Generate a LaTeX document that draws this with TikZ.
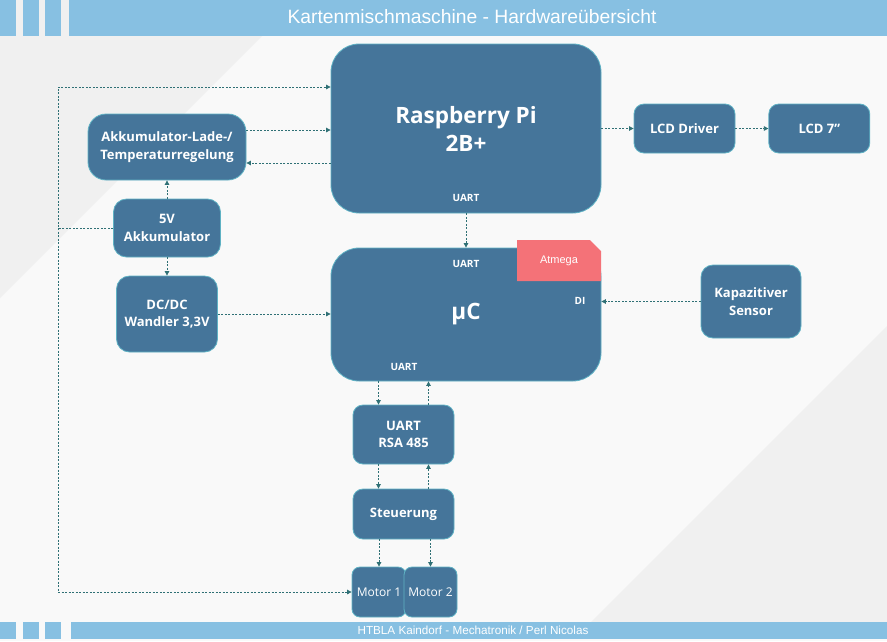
\documentclass[tikz,border=0pt]{standalone}
\usepackage{fontspec}
\setmainfont{Open Sans}
\newfontfamily\bannerfont{Liberation Sans}
\usetikzlibrary{arrows.meta, positioning, calc}
\definecolor{bannerB}{HTML}{87C0E2}
\definecolor{pageW}{HTML}{F9F9F9}
\definecolor{pageG}{HTML}{F0F0F0}
\definecolor{boxA}{HTML}{45759A}
\definecolor{boxE}{HTML}{5FB2C4}
\definecolor{wireT}{HTML}{2F7075}
\definecolor{atmegaR}{HTML}{F47278}

\begin{document}
\begin{tikzpicture}[
  x=1pt, y=-1pt,
  blk/.style={
    fill=boxA, draw=boxE, line width=0.8pt,
    rounded corners=#1, text=white,
    font=\bfseries\fontsize{13}{17.5}\selectfont,
    align=center, inner sep=0pt
  },
  blk/.default=12pt,
  sz/.style 2 args={minimum width=#1pt, minimum height=#2pt},
  pin/.style={text=white, inner sep=0pt,
    font=\bfseries\fontsize{10}{12}\selectfont},
  atmegabox/.style={
    text=white, inner sep=0pt,
    font=\bannerfont\fontsize{11}{13}\selectfont,
    path picture={\fill[atmegaR]
      (path picture bounding box.north west) --
      ([xshift=-11pt]path picture bounding box.north east) --
      ([yshift=-11pt]path picture bounding box.north east) --
      (path picture bounding box.south east) --
      (path picture bounding box.south west) -- cycle;}
  },
  bannertxt/.style={text=white, inner sep=0pt},
  wire/.style={-{Triangle[length=4.5pt, width=4.5pt]}, wireT,
    line width=0.8pt, dash pattern=on 2pt off 1.5pt}
]

%% ═══ HINTERGRUND ═══
\fill[pageW] (0,0) rectangle (887,641);
\fill[pageG] (0,36) -- (262,36) -- (0,298) -- cycle;
\fill[pageG] (887,326) -- (887,622) -- (591,622) -- cycle;
\fill[pageG] (0,0) rectangle (887,36);
\foreach \xa/\xb in {0/16, 23/39, 45/61, 69/887}
  \fill[bannerB] (\xa,0) rectangle (\xb,36);
\foreach \xa/\xb in {0/16, 23/39, 45/61, 71/887}
  \fill[bannerB] (\xa,622) rectangle (\xb,639);

\node[bannertxt, font=\bannerfont\fontsize{19.3}{21}\selectfont] (title) at (472,17)
  {Kartenmischmaschine - Hardwareübersicht};
\node[bannertxt, font=\bannerfont\fontsize{11.7}{13}\selectfont] (footer) at (473,630.5)
  {HTBLA Kaindorf - Mechatronik / Perl Nicolas};

%% ═══ RECHNER ═══
\node[blk=28pt, sz={270}{169}, font=\bfseries\fontsize{22.5}{28}\selectfont] (rpi) at (466,128.5)
  {Raspberry Pi\\2B+};
\node[pin] (rpiuart) at (466,198) {UART};

\node[blk=28pt, sz={270}{133}, font=\bfseries\fontsize{22.5}{28}\selectfont] (uc) at (466,314.5)
  {µC};
\node[atmegabox, sz={84}{41}] (atmega) at (559,260.5) {Atmega};
\node[pin] (ucuartT) at (466,264) {UART};
\node[pin] (ucdi) at (580,301) {DI};
\node[pin] (ucuartB) at (404,367) {UART};

%% ═══ VERSORGUNG ═══
\node[blk=18pt, sz={158}{66}] (lade) at (167,147)
  {Akkumulator-Lade-/\\Temperaturregelung};
\node[blk=13pt, sz={107}{58}] (akku) at (167,228)
  {5V\\Akkumulator};
\node[blk=13pt, sz={101}{76}] (dcdc) at (167,314)
  {DC/DC\\Wandler 3,3V};

%% ═══ PERIPHERIE ═══
\node[blk=10pt, sz={101}{49}] (lcddrv) at (684.5,128.5) {LCD Driver};
\node[blk=10pt, sz={101}{49}, right=33pt of lcddrv] (lcd) {LCD 7"};
\node[blk=12pt, sz={100}{73}] (sensor) at (751,301.5)
  {Kapazitiver\\Sensor};

\node[blk=10pt, sz={101}{59}] (rsa) at (403.5,434.5) {UART\\RSA 485};
\node[blk=10pt, sz={101}{50}] (steu) at (403.5,514) {Steuerung};
\node[blk=8pt, sz={54}{50}, font=\fontsize{12}{14}\selectfont] (motor1) at (379,592) {Motor 1};
\node[blk=8pt, sz={53}{50}, font=\fontsize{12}{14}\selectfont] (motor2) at (430.5,592) {Motor 2};

%% ═══ VERBINDUNGEN ═══
\coordinate (busT) at (58,87);
\draw[wire] (akku.west) -| (busT) -- (busT -| rpi.west);
\draw[wire] (akku.west -| busT) |- (motor1.west);

\draw[wire] ([yshift=17pt]lade.east) -- ([yshift=17pt]lade.east -| rpi.west);
\draw[wire] ([yshift=-16pt]lade.east -| rpi.west) -- ([yshift=-16pt]lade.east);
\draw[wire] (akku.north) -- (lade.south);
\draw[wire] (akku.south) -- (dcdc.north);
\draw[wire] (dcdc.east) -- (dcdc.east -| uc.west);

\draw[wire] (rpi.east) -- (lcddrv.west);
\draw[wire] (lcddrv.east) -- (lcd.west);
\draw[wire] (rpi.south) -- (uc.north);
\draw[wire] (sensor.west) -- (sensor.west -| uc.east);

\draw[wire] ([xshift=-25pt]rsa.north |- uc.south) -- ([xshift=-25pt]rsa.north);
\draw[wire] ([xshift=25pt]rsa.north) -- ([xshift=25pt]rsa.north |- uc.south);
\draw[wire] ([xshift=-25pt]rsa.south) -- ([xshift=-25pt]steu.north);
\draw[wire] ([xshift=25pt]steu.north) -- ([xshift=25pt]rsa.south);
\draw[wire] (motor1.north |- steu.south) -- (motor1.north);
\draw[wire] (motor2.north |- steu.south) -- (motor2.north);

\end{tikzpicture}
\end{document}
